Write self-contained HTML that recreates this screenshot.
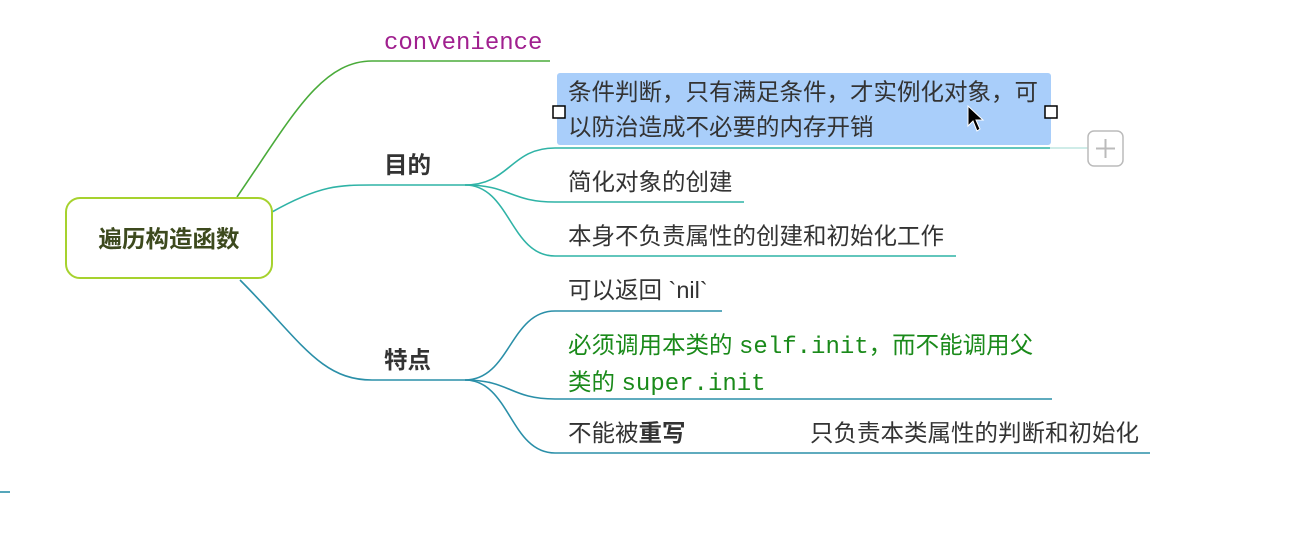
<!DOCTYPE html>
<html><head><meta charset="utf-8"><style>
body{margin:0;width:1308px;height:542px;background:#fff;position:relative;overflow:hidden;font-family:"Liberation Sans","Noto Sans CJK SC",sans-serif;}
.t{position:absolute;font-size:23.5px;color:#333;white-space:nowrap;line-height:30px;}
.m{font-family:"Liberation Mono","Noto Sans CJK SC",monospace;font-size:24px;}
</style></head><body>
<svg width="1308" height="542" style="position:absolute;left:0;top:0">
<g fill="none" stroke-width="1.6">
<path d="M237 197 C290 120 320 61 372 61 L550 61" stroke="#4aab3a"/>
<path d="M272 212 C320 185 340 185 372 185 L465 185" stroke="#2fb3a6"/>
<path d="M465 185 C510 185 510 148 555 148 L1050 148" stroke="#2fb3a6"/>
<path d="M1050 148 L1090 148" stroke="#bfe6e0"/>
<path d="M465 185 C510 185 510 202 555 202 L744 202" stroke="#2fb3a6"/>
<path d="M465 185 C510 185 510 256 555 256 L956 256" stroke="#2fb3a6"/>
<path d="M240 280 C300 340 320 380 372 380 L465 380" stroke="#2a8fa8"/>
<path d="M465 380 C510 380 510 311 555 311 L722 311" stroke="#2a8fa8"/>
<path d="M465 380 C510 380 510 399 555 399 L1052 399" stroke="#2a8fa8"/>
<path d="M465 380 C510 380 510 453 555 453 L1150 453" stroke="#2a8fa8"/>
<path d="M0 492 L10 492" stroke="#2a8fa8"/>
</g>
<rect x="66" y="198" width="206" height="80" rx="14" fill="#fff" stroke="#a6d22e" stroke-width="2"/>
<rect x="557" y="73" width="494" height="72" rx="3" fill="#a9cefa"/>
<rect x="553" y="106" width="12" height="12" fill="#fff" stroke="#000" stroke-width="1.5"/>
<rect x="1045" y="106" width="12" height="12" fill="#fff" stroke="#000" stroke-width="1.5"/>
<rect x="1088" y="131" width="35" height="35" rx="6" fill="#fff" stroke="#bbb" stroke-width="1.5"/>
<path d="M1096 148.5 H1115 M1105.5 139 V158" stroke="#bbb" stroke-width="2"/>
<path d="M968 106 L968 126 L973 121 L977 131 L980 129 L976 120 L983 120 Z" fill="#000" stroke="#fff" stroke-width="1"/>
</svg>
<div class="t" style="left:66px;top:224px;width:206px;text-align:center;font-weight:bold;color:#3d4a1e;">遍历构造函数</div>
<div class="t m" style="left:384px;top:29px;color:#a0208f;">convenience</div>
<div class="t" style="left:384px;top:150px;font-weight:bold;">目的</div>
<div class="t" style="left:384px;top:345px;font-weight:bold;">特点</div>
<div class="t" style="left:568px;top:75px;line-height:35px;">条件判断，只有满足条件，才实例化对象，可<br>以防治造成不必要的内存开销</div>
<div class="t" style="left:568px;top:167px;">简化对象的创建</div>
<div class="t" style="left:568px;top:221px;">本身不负责属性的创建和初始化工作</div>
<div class="t" style="left:568px;top:275px;">可以返回 `nil`</div>
<div class="t" style="left:568px;top:328px;line-height:34px;color:#1a8a1a;">必须调用本类的 <span class="m">self.init</span>，而不能调用父<br>类的 <span class="m">super.init</span></div>
<div class="t" style="left:568px;top:418px;">不能被<b>重写</b></div>
<div class="t" style="left:810px;top:418px;">只负责本类属性的判断和初始化</div>
</body></html>
